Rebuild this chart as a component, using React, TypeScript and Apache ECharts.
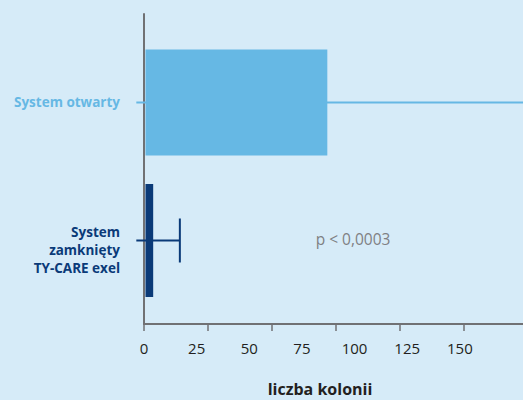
import React, { useEffect, useRef } from "react";
import * as echarts from "echarts";

// Data
const categories = ["System zamknięty TY-CARE exel", "System otwarty"];
const categoryLines = [["System", "zamknięty", "TY-CARE exel"], ["System otwarty"]];
const means = [3, 71];
const errLow = [-3, -3];
const errHigh = [14, 160];
const xTickLabels = [0, 25, 50, 75, 100, 125, 150];
const xAxisTitle = "liczba kolonii";
const pText = "p < 0,0003";

const FONT = "'Open Sans', 'Noto Sans', sans-serif";
const BG = "#d6ebf8";
const LIGHT = "#66b8e4";
const NAVY = "#0a3a78";
const AXIS = "#707174";
const barColors = [NAVY, LIGHT];
const barHeights = [113, 106];

export default function App() {
  const ref = useRef<HTMLDivElement>(null);
  useEffect(() => {
    document.body.style.margin = "0";
    const chart = echarts.init(ref.current!, null, { renderer: "svg" });
    const option: any = {
      animation: false,
      backgroundColor: BG,
      grid: { left: 144, right: 0, top: 14, bottom: 76, containLabel: false, outerBoundsMode: "none" },
      xAxis: [
        {
          type: "value",
          min: 0,
          max: 148,
          interval: 25,
          position: "bottom",
          axisLine: { show: true, onZero: false, lineStyle: { color: AXIS, width: 2 } },
          axisTick: {
            show: true,
            length: 7,
            customValues: xTickLabels.filter((v) => v < 148),
            lineStyle: { color: AXIS, width: 1.5 },
          },
          axisLabel: { show: false },
          splitLine: { show: false },
          name: xAxisTitle,
          nameLocation: "middle",
          nameGap: 56,
          nameTextStyle: {
            fontFamily: FONT,
            fontWeight: "bold",
            fontSize: 16,
            lineHeight: 18,
            color: "#231f20",
            padding: [0, 27, 0, 0],
          },
        },
        {
          type: "value",
          min: 0,
          max: 180,
          interval: 25,
          position: "bottom",
          axisLine: { show: false, onZero: false },
          axisTick: { show: false },
          splitLine: { show: false },
          axisLabel: {
            show: true,
            customValues: xTickLabels,
            margin: 16,
            fontFamily: FONT,
            fontSize: 15,
            color: "#231f20",
            formatter: (v: number) => (v <= 150 ? String(v) : ""),
          },
        },
      ],
      yAxis: {
        type: "value",
        min: -0.605,
        max: 1.641,
        axisLine: { show: true, onZero: false, lineStyle: { color: AXIS, width: 2 } },
        axisTick: { show: false },
        splitLine: { show: false },
        axisLabel: {
          show: true,
          customValues: [0, 1],
          margin: 24,
          formatter: (v: number) => {
            if (Math.abs(v - 1) < 1e-6) return "{o|" + categoryLines[1][0] + "}";
            if (Math.abs(v) < 1e-6) {
              return "{e| }\n" + categoryLines[0].map((s) => "{z|" + s + "}").join("\n");
            }
            return "";
          },
          rich: {
            o: { color: LIGHT, fontWeight: "bold", fontSize: 13.5, fontFamily: FONT, align: "right" },
            e: { fontSize: 4, lineHeight: 20, align: "right" },
            z: { color: NAVY, fontWeight: "bold", fontSize: 13.5, fontFamily: FONT, lineHeight: 18, align: "right" },
          },
        },
      },
      series: [
        {
          type: "custom",
          name: "bars",
          xAxisIndex: 0,
          yAxisIndex: 0,
          data: means.map((m, i) => ({ name: categories[i], value: [m, i] })),
          encode: { x: 0, y: 1 },
          renderItem: (params: any, api: any) => {
            const idx = params.dataIndex;
            const y = api.value(1);
            const p0 = api.coord([0, y]);
            const p1 = api.coord([api.value(0), y]);
            const h = barHeights[idx];
            return {
              type: "rect",
              shape: { x: p0[0] + 1.5, y: p0[1] - h / 2, width: p1[0] - p0[0], height: h },
              style: { fill: barColors[idx] },
            };
          },
        },
        {
          type: "custom",
          name: "errors",
          xAxisIndex: 0,
          yAxisIndex: 0,
          clip: false,
          data: errLow.map((l, i) => [l, errHigh[i], i]),
          encode: { x: [0, 1], y: 2 },
          renderItem: (params: any, api: any) => {
            const idx = params.dataIndex;
            const y = api.value(2);
            const a = api.coord([api.value(0), y]);
            const b = api.coord([api.value(1), y]);
            const st = { stroke: barColors[idx], lineWidth: 2 };
            return {
              type: "group",
              children: [
                { type: "line", shape: { x1: a[0], y1: a[1], x2: b[0], y2: b[1] }, style: st },
                { type: "line", shape: { x1: b[0], y1: b[1] - 22, x2: b[0], y2: b[1] + 22 }, style: st },
              ],
            };
          },
        },
      ],
      graphic: [
        {
          type: "text",
          x: 353,
          y: 239,
          style: {
            text: pText,
            fill: "#7f8083",
            font: "15.5px " + FONT,
            align: "center",
            verticalAlign: "middle",
          },
        },
      ],
    };
    chart.setOption(option);
    return () => chart.dispose();
  }, []);
  return <div ref={ref} style={{ width: 523, height: 400 }} />;
}
